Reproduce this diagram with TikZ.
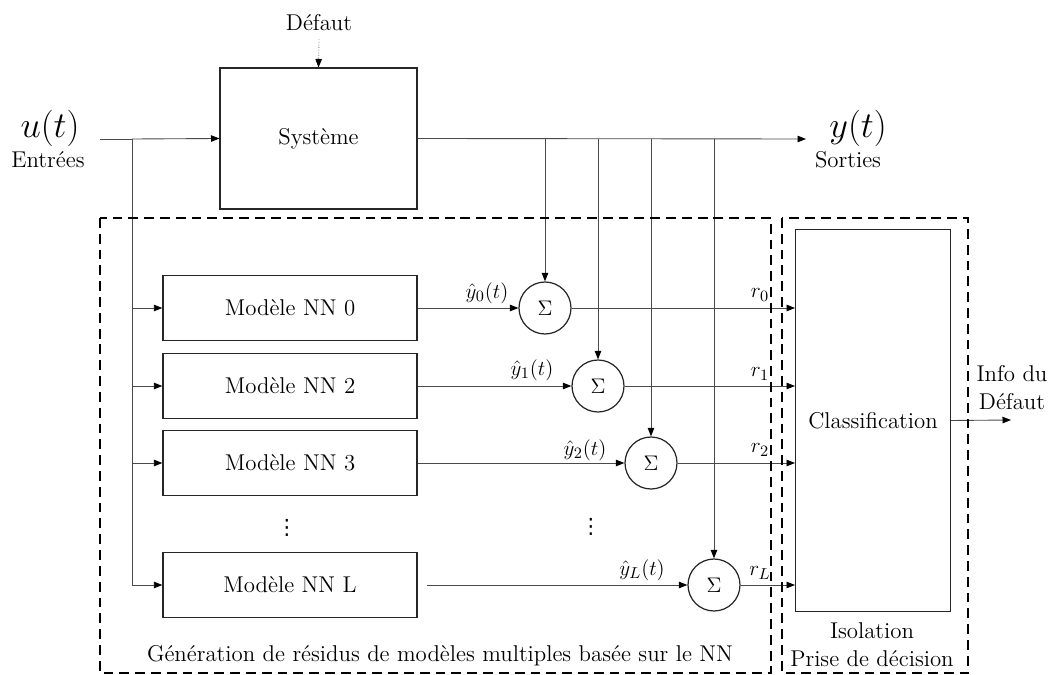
\documentclass[tikz,border=0pt]{standalone}
\usepackage{fontspec}
\usepackage{tikz}
\usetikzlibrary{arrows.meta, positioning, calc}
\newfontfamily\dotsfont{DejaVu Sans}
\definecolor{wiregray}{HTML}{4A4A4A}

\begin{document}
\begin{tikzpicture}[
  x=0.02cm, y=-0.02cm,
  every node/.style={font=\fontsize{13}{15.9}\selectfont, inner sep=1pt},
  bigmath/.style={font=\fontsize{20}{23}\selectfont},
  sysbox/.style={rectangle, draw=black!85, line width=0.6pt},
  nnbox/.style={rectangle, draw=black!85, line width=0.8pt, minimum width=5.08cm, minimum height=1.3cm},
  sumnode/.style={circle, draw=black!85, line width=0.7pt, minimum size=1.04cm, inner sep=0pt},
  arrow/.style={-{Stealth[length=1.7mm, width=1.3mm, inset=0pt, color=black]}, line width=0.5pt, draw=wiregray},
  wire/.style={line width=0.5pt, draw=wiregray},
  zone/.style={draw=black, dash pattern=on 5.6pt off 3.4pt, line width=1.5pt}
]
  \useasboundingbox (0,0) rectangle (1051,675);

  % systeme reel
  \node (defaut) at (319,23) {Défaut};
  \node[sysbox, minimum width=3.94cm, minimum height=2.82cm] (sys) at (318.5,138.5) {Système};
  \node[bigmath] (u) at (50,128) {$u(t)$};
  \node (entrees) at (48,160) {Entrées};
  \node[bigmath] (y) at (858,128) {$y(t)$};
  \node (sorties) at (848,160) {Sorties};
  \coordinate (inp) at (100,139);
  \coordinate (split) at (132,139);
  \coordinate (yend) at (806,139);

  % banc de modeles NN
  \foreach \i/\lab/\yy in {0/0/308, 1/2/386, 2/3/463, L/L/585}
    \node[nnbox] (nn\i) at (290,\yy) {Modèle NN \lab};
  \node[font=\dotsfont\fontsize{12}{14}\selectfont] (vdotsa) at (287,528) {⋮};
  \node[font=\dotsfont\fontsize{12}{14}\selectfont] (vdotsb) at (591,527) {⋮};

  % sommateurs
  \node[sumnode] (s0) at (545,308) {$\Sigma$};
  \node[sumnode] (s1) at (598,386) {$\Sigma$};
  \node[sumnode] (s2) at (651,463) {$\Sigma$};
  \node[sumnode] (sL) at (714,585) {$\Sigma$};

  \node (yh0) at (487,293) {$\hat{y}_0(t)$};
  \node (yh1) at (532,370) {$\hat{y}_1(t)$};
  \node (yh2) at (585,450) {$\hat{y}_2(t)$};
  \node (yhL) at (642,570) {$\hat{y}_L(t)$};
  \node (r0) at (760,295) {$r_0$};
  \node (r1) at (760,374) {$r_1$};
  \node (r2) at (760,450) {$r_2$};
  \node (rL) at (760,573) {$r_L$};

  % decision
  \node[sysbox, minimum width=3.1cm, minimum height=7.66cm] (cls) at (873,420.5) {Classification};
  \coordinate (info) at (1011,420);
  \node[align=center] (infolab) at (1012,388) {Info du\\Défaut};
  \node[align=center] (isolab) at (872,645) {Isolation\\Prise de décision};
  \node (genlab) at (440,656) {Génération de résidus de modèles multiples basée sur le NN};

  % connexions
  \draw[arrow, densely dotted, draw=gray] (defaut.south) ++(0,6) -- (sys.north);
  \draw[wire] (inp) -- (split);
  \draw[arrow] (split) -- (sys.west);
  \draw[arrow] (sys.east) -- (yend);
  \draw[wire] (split) -- (split |- nnL);
  \foreach \i in {0,1,2,L} {
    \draw[arrow] (split |- nn\i) -- (nn\i.west);
    \draw[arrow] (s\i |- yend) -- (s\i.north);
    \draw[arrow] (s\i.east) -- (cls.west |- s\i);
  }
  \foreach \i in {0,1,2}
    \draw[arrow] (nn\i.east) -- (s\i.west);
  \draw[arrow] ($(nnL.east)+(9,0)$) -- (sL.west);
  \draw[arrow] (cls.east) -- (info);

  % zones en pointilles
  \draw[zone] (100,218) rectangle (771,673);
  \draw[zone] (782,218) rectangle (968,673);
\end{tikzpicture}
\end{document}
